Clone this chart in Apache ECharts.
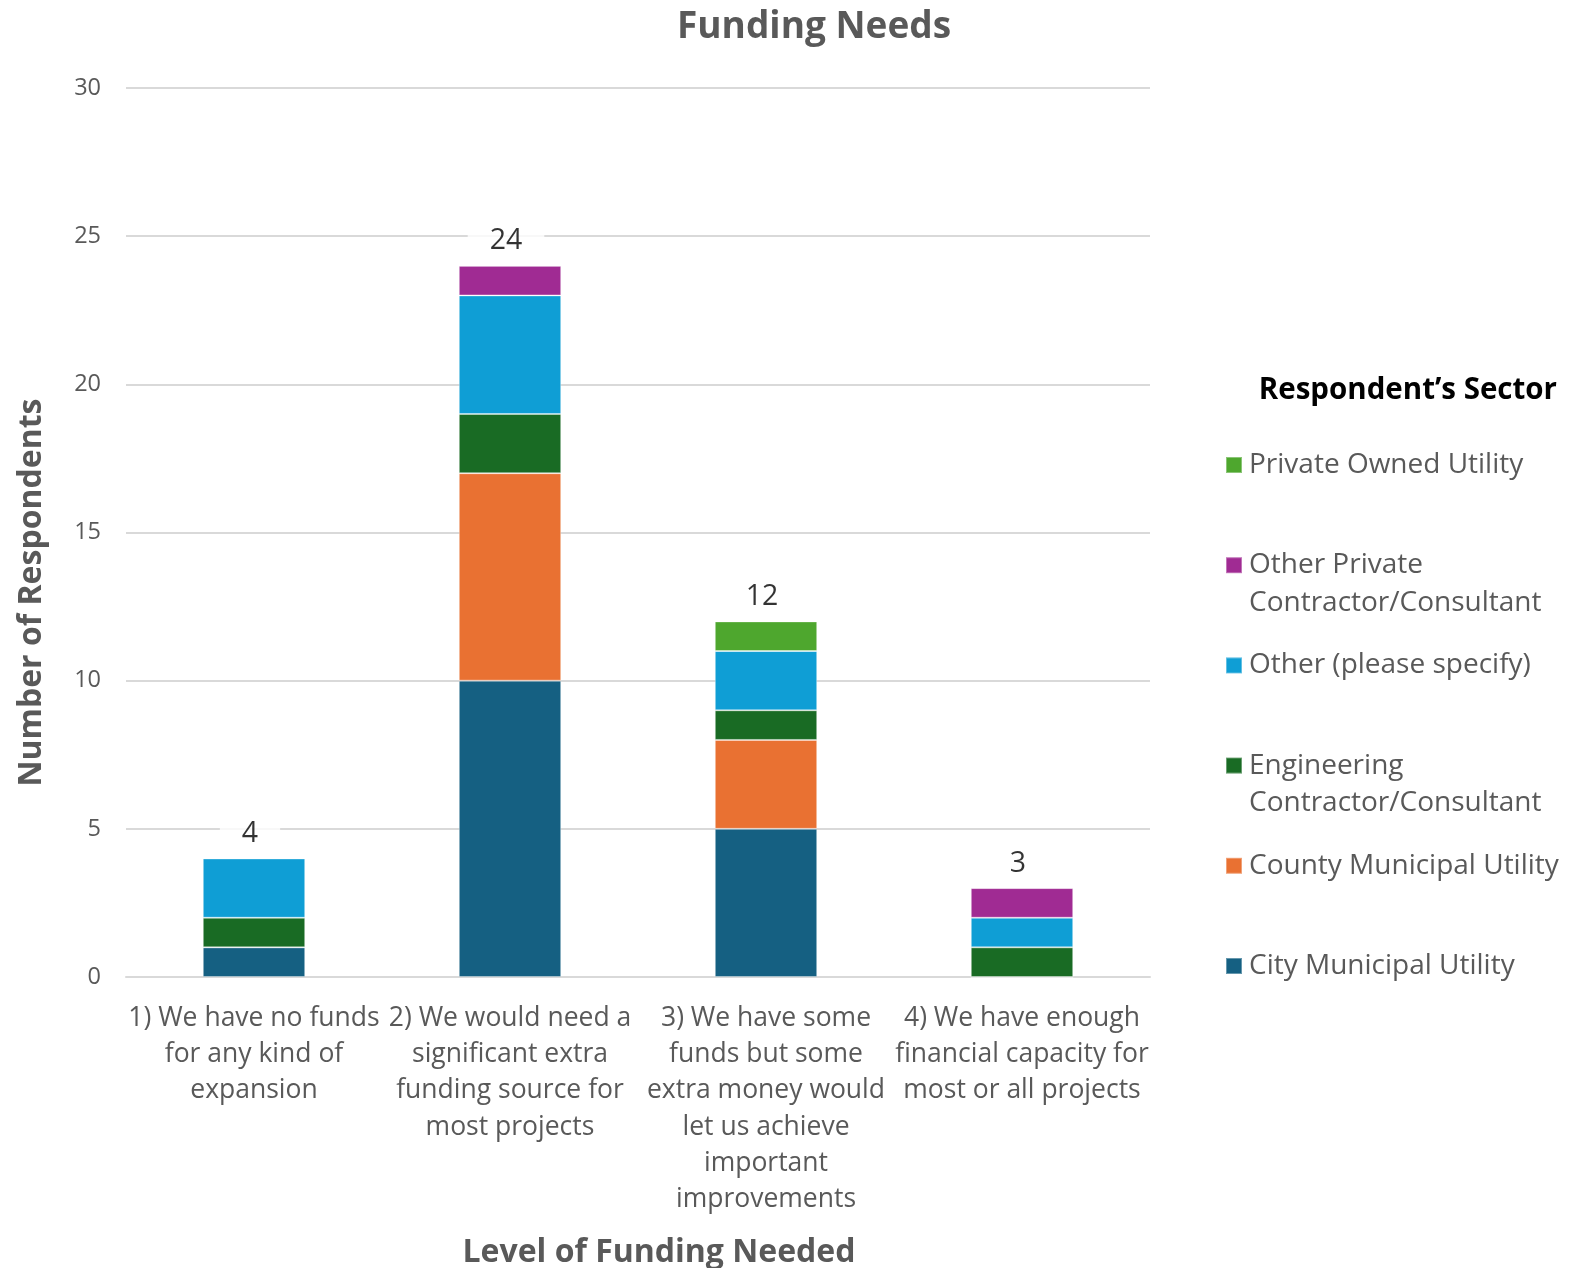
<!DOCTYPE html>
<html>
<head>
<meta charset="utf-8">
<title>Funding Needs</title>
<script src="https://cdn.jsdelivr.net/npm/echarts@6/dist/echarts.min.js"></script>
<style>
  html, body { margin: 0; padding: 0; background: #ffffff; }
  #chart { width: 1588px; height: 1268px; }
</style>
</head>
<body>
<div id="chart"></div>
<script>
// Funding level categories (x axis), with explicit line breaks
const categories = [
  '1) We have no funds\nfor any kind of\nexpansion',
  '2) We would need a\nsignificant extra\nfunding source for\nmost projects',
  '3) We have some\nfunds but some\nextra money would\nlet us achieve\nimportant\nimprovements',
  '4) We have enough\nfinancial capacity for\nmost or all projects'
];

// Respondent counts per sector, one value per category
const cityMunicipal      = [1, 10, 5, 0];
const countyMunicipal    = [0, 7, 3, 0];
const engineering        = [1, 2, 1, 1];
const otherSpecify       = [2, 4, 2, 1];
const otherPrivate       = [0, 1, 0, 1];
const privateOwned       = [0, 0, 1, 0];

const yTicks = { min: 0, max: 30, interval: 5 };

// Stack order bottom to top
const sectors = [
  { name: 'City Municipal Utility', data: cityMunicipal, color: '#156082' },
  { name: 'County Municipal Utility', data: countyMunicipal, color: '#E97132' },
  { name: 'Engineering Contractor/Consultant', data: engineering, color: '#196B24' },
  { name: 'Other (please specify)', data: otherSpecify, color: '#0F9ED5' },
  { name: 'Other Private Contractor/Consultant', data: otherPrivate, color: '#A02B93' },
  { name: 'Private Owned Utility', data: privateOwned, color: '#4EA72E' }
];

// Legend labels as displayed (top to bottom)
const legendLines = {
  'Private Owned Utility': ['Private Owned Utility'],
  'Other Private Contractor/Consultant': ['Other Private', 'Contractor/Consultant'],
  'Other (please specify)': ['Other (please specify)'],
  'Engineering Contractor/Consultant': ['Engineering', 'Contractor/Consultant'],
  'County Municipal Utility': ['County Municipal Utility'],
  'City Municipal Utility': ['City Municipal Utility']
};

const totals = categories.map((_, i) => sectors.reduce((s, sec) => s + sec.data[i], 0));

const FONT = '"Open Sans", "Noto Sans", sans-serif';
const GREY = '#595959';

const series = sectors.map(sec => ({
  name: sec.name,
  type: 'bar',
  stack: 'all',
  barWidth: '40%',
  data: sec.data,
  itemStyle: { color: sec.color, borderColor: 'rgba(255,255,255,0.35)', borderWidth: 1 },
  emphasis: { disabled: true }
}));

// Total labels sitting on top of each stack
series.push({
  name: 'Total',
  type: 'scatter',
  data: totals,
  symbolSize: 0,
  silent: true,
  z: 5,
  label: {
    show: true,
    position: 'top',
    distance: 0,
    offset: [-4, 0],
    formatter: p => String(p.value),
    fontFamily: FONT,
    fontSize: 28.5,
    color: '#000000',
    backgroundColor: '#ffffff',
    padding: [15, 22, 10, 22]
  }
});

// One legend block per sector, markers spaced evenly down the right side.
// Two-line entries get a blank first line so the marker lines up with the first text line.
const LEGEND_LH = 37.5;
const legendRows = sectors.slice().reverse();
const legends = legendRows.map((sec, i) => {
  const lines = legendLines[sec.name];
  const multi = lines.length > 1;
  const markerY = 465 + i * 100.2;
  return {
    orient: 'vertical',
    left: 1225,
    top: multi ? markerY - LEGEND_LH * 1.5 : markerY - LEGEND_LH / 2,
    padding: 0,
    itemWidth: 16,
    itemHeight: 16,
    itemGap: 0,
    icon: 'rect',
    selectedMode: false,
    data: [sec.name],
    formatter: () => (multi ? '\n' : '') + lines.join('\n'),
    textStyle: { fontFamily: FONT, fontSize: 28, color: GREY, lineHeight: LEGEND_LH, padding: [0, 0, 0, 2] }
  };
});

const chart = echarts.init(document.getElementById('chart'), null, { renderer: 'canvas' });
chart.setOption({
  animation: false,
  backgroundColor: '#ffffff',
  textStyle: { fontFamily: FONT },
  title: [
    {
      text: 'Funding Needs',
      left: 677,
      top: 4,
      padding: 0,
      textStyle: { fontFamily: FONT, fontSize: 37, fontWeight: 'bold', color: GREY, lineHeight: 46 }
    },
    {
      text: 'Respondent\u2019s Sector',
      right: 31,
      top: 371,
      padding: 0,
      textStyle: { fontFamily: FONT, fontSize: 29.5, fontWeight: 'bold', color: '#000000', lineHeight: 40 }
    }
  ],
  grid: { left: 126, right: 438, top: 88, bottom: 291, containLabel: false, outerBoundsMode: 'none' },
  legend: legends,
  xAxis: {
    type: 'category',
    data: categories,
    name: 'Level of Funding Needed',
    nameLocation: 'middle',
    nameGap: 260,
    nameTextStyle: { fontFamily: FONT, fontSize: 32, fontWeight: 'bold', color: GREY, padding: [0, 0, 0, 42] },
    axisLine: { lineStyle: { color: '#d9d9d9', width: 2 } },
    axisTick: { show: false },
    axisLabel: {
      interval: 0,
      margin: 23,
      fontFamily: FONT,
      fontSize: 26.5,
      lineHeight: 36.3,
      color: GREY,
      align: 'center'
    }
  },
  yAxis: {
    type: 'value',
    min: yTicks.min,
    max: yTicks.max,
    interval: yTicks.interval,
    name: 'Number of Respondents',
    nameLocation: 'middle',
    nameGap: 78,
    nameTextStyle: { fontFamily: FONT, fontSize: 32, fontWeight: 'bold', color: GREY, padding: [0, 120, 0, 0] },
    axisLine: { show: false },
    axisTick: { show: false },
    axisLabel: { margin: 25, fontFamily: FONT, fontSize: 23.5, color: GREY },
    splitLine: { lineStyle: { color: '#d9d9d9', width: 2 } }
  },
  series: series
});
</script>
</body>
</html>
